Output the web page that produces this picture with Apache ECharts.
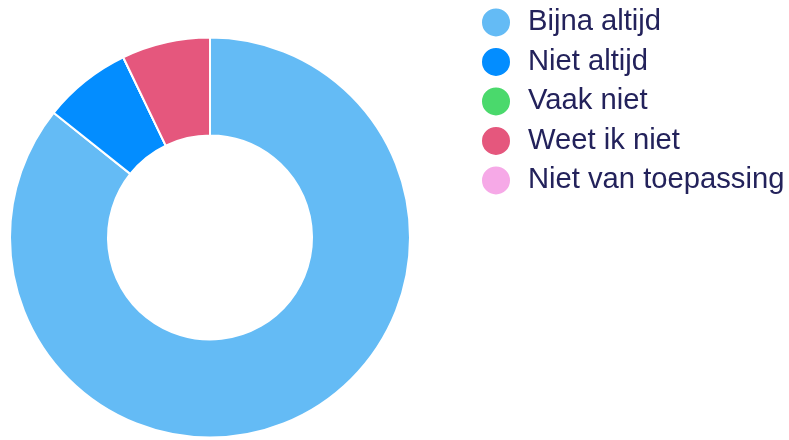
<!DOCTYPE html>
<html>
<head>
<meta charset="utf-8">
<script src="https://cdn.jsdelivr.net/npm/echarts@6/dist/echarts.min.js"></script>
<style>
  html, body { margin: 0; padding: 0; background: #fff; }
  #chart { width: 789px; height: 440px; }
</style>
</head>
<body>
<div id="chart"></div>
<script>
// categories and counts
const categories = ["Bijna altijd", "Niet altijd", "Vaak niet", "Weet ik niet", "Niet van toepassing"];
const counts = [12, 1, 0, 1, 0];
const colors = ["#64BBF5", "#038DFF", "#4AD96C", "#E5577D", "#F6A9E7"];

const chart = echarts.init(document.getElementById("chart"));
chart.setOption({
  animation: false,
  color: colors,
  legend: {
    orient: "vertical",
    left: 475,
    top: 1.4,
    icon: "circle",
    itemWidth: 30,
    itemHeight: 30,
    itemGap: 7.5,
    data: categories,
    textStyle: {
      fontFamily: "Liberation Sans",
      fontSize: 29.2,
      color: "#23225B",
      padding: [0, 0, 0, 12],
      lineHeight: 30
    }
  },
  series: [
    {
      type: "pie",
      center: [210, 237.5],
      radius: [102, 200],
      startAngle: 90,
      label: { show: false },
      labelLine: { show: false },
      itemStyle: { borderColor: "#fff", borderWidth: 2 },
      emphasis: { disabled: true },
      data: categories.map((name, i) => ({ name: name, value: counts[i] }))
    }
  ]
});
</script>
</body>
</html>
